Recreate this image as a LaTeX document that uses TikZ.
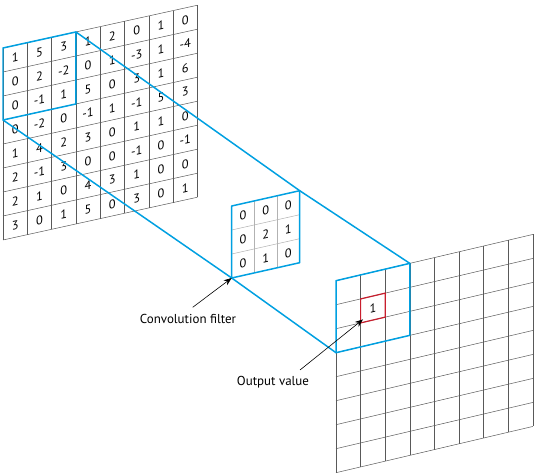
\documentclass[tikz,border=0pt]{standalone}
\usepackage{fontspec}
\setmainfont{PT Sans}
\usetikzlibrary{arrows.meta}
\definecolor{cnnblue}{RGB}{0,160,225}
\definecolor{cnnred}{RGB}{200,30,45}
\begin{document}
\begin{tikzpicture}[x=1bp,y=-1bp,
  gridline/.style={draw=black!65, line width=0.5pt},
  softline/.style={draw=black!30, line width=0.5pt},
  blueline/.style={draw=cnnblue, line width=1.5pt, line join=round},
  redbox/.style={draw=cnnred, line width=1.2pt},
  num/.style={font=\fontsize{12.5}{14}\selectfont, inner sep=0pt, transform shape},
  lab/.style={font=\fontsize{13}{15}\selectfont, inner sep=1pt},
  arr/.style={-{Stealth[length=8bp,width=6bp]}, line width=0.6pt}]
\useasboundingbox (0,0) rectangle (534,474);

% ---------- input grid ----------
\begin{scope}[shift={(3,48)}, yslant=0.22]
  \foreach \i in {0,...,8} \draw[gridline] (\i*24.3,0) -- (\i*24.3,192);
  \foreach \j in {0,...,8} \draw[gridline] (0,\j*24) -- (194.4,\j*24);
  \foreach \row [count=\r from 0] in {{1,5,3,1,2,0,1,0},{0,2,-2,0,1,-3,1,-4},{0,-1,1,5,0,3,1,6},{0,-2,0,-1,1,-1,5,3},{1,4,2,3,0,1,1,0},{2,-1,3,0,0,-1,0,-1},{2,1,0,4,3,1,0,0},{3,0,1,5,0,3,0,1}}{
    \foreach \v [count=\c from 0] in \row {
      \node[num] (in-\r-\c) at ({(\c+0.5)*24.3},{(\r+0.5)*24}) {\v};
    }
  }
  \coordinate (inTL) at (0,0);
  \coordinate (inTR) at (72.9,0);
  \coordinate (inBR) at (72.9,72);
  \coordinate (inBL) at (0,72);
\end{scope}
\draw[blueline] (inTL) -- (inTR) -- (inBR) -- (inBL) -- cycle;

% ---------- filter ----------
\begin{scope}[shift={(231.7,206)}, yslant=0.225]
  \fill[white] (0,0) rectangle (68,72);
  \foreach \i in {1,2} \draw[softline] (\i*22.67,0) -- (\i*22.67,72);
  \foreach \j in {1,2} \draw[softline] (0,\j*24) -- (68,\j*24);
  \foreach \row [count=\r from 0] in {{0,0,0},{0,2,1},{0,1,0}}{
    \foreach \v [count=\c from 0] in \row {
      \node[num] (f-\r-\c) at ({(\c+0.5)*22.67},{(\r+0.5)*24}) {\v};
    }
  }
  \coordinate (fTL) at (0,0);
  \coordinate (fTR) at (68,0);
  \coordinate (fBR) at (68,72);
  \coordinate (fBL) at (0,72);
\end{scope}
\draw[blueline] (fTL) -- (fTR) -- (fBR) -- (fBL) -- cycle;

% ---------- output grid ----------
\begin{scope}[shift={(336,280.7)}, yslant=0.235]
  \foreach \i in {0,...,8} \draw[gridline] (\i*24.6,0) -- (\i*24.6,192);
  \foreach \j in {0,...,8} \draw[gridline] (0,\j*24) -- (196.8,\j*24);
  \coordinate (oTL) at (0,0);
  \coordinate (oTR) at (73.8,0);
  \coordinate (oBR) at (73.8,72);
  \coordinate (oBL) at (0,72);
  \coordinate (rTL) at (24.6,24);
  \coordinate (rTR) at (49.2,24);
  \coordinate (rBR) at (49.2,48);
  \coordinate (rBL) at (24.6,48);
  \coordinate (outTip) at (27,45);
  \node[num] (o-1-1) at (36.9,36) {1};
\end{scope}
\draw[blueline] (oTL) -- (oTR) -- (oBR) -- (oBL) -- cycle;
\draw[redbox] (rTL) -- (rTR) -- (rBR) -- (rBL) -- cycle;

% ---------- projection lines ----------
\draw[blueline] (inTR) -- (fTR) -- (oTR);
\draw[blueline] (inBL) -- (fBL) -- (oBL);

% ---------- labels ----------
\node[lab] (labConv) at (188,319) {Convolution filter};
\node[lab] (labOut) at (273,381.7) {Output value};
\coordinate (convStart) at (192.7,307.3);
\coordinate (outStart) at (300,370);
\draw[arr] (convStart) -- (fBL);
\draw[arr] (outStart) -- (outTip);
\end{tikzpicture}
\end{document}
